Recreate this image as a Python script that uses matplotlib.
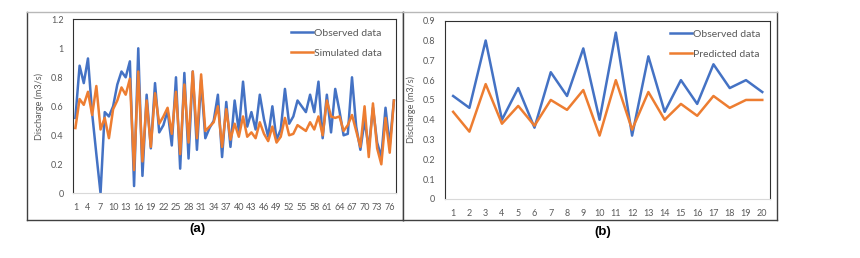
import matplotlib
matplotlib.use('Agg')
import matplotlib.pyplot as plt
import numpy as np

plt.rcParams['font.family'] = ['Lato', 'DejaVu Sans']

# panel (a): 77 days, observed vs simulated discharge
obs_a = [0.52, 0.88, 0.76, 0.93, 0.55, 0.27, 0.00, 0.56, 0.53, 0.60, 0.75, 0.84, 0.80, 0.91, 0.05, 1.00, 0.12, 0.68, 0.31, 0.76,
         0.42, 0.47, 0.57, 0.33, 0.80, 0.17, 0.83, 0.24, 0.84, 0.30, 0.78, 0.38, 0.45, 0.50, 0.68, 0.25, 0.63, 0.32, 0.64, 0.43,
         0.77, 0.46, 0.56, 0.44, 0.68, 0.51, 0.39, 0.60, 0.37, 0.44, 0.72, 0.48, 0.53, 0.64, 0.60, 0.56, 0.68, 0.56, 0.77, 0.38,
         0.68, 0.42, 0.72, 0.57, 0.40, 0.41, 0.80, 0.46, 0.30, 0.50, 0.31, 0.59, 0.35, 0.25, 0.59, 0.33, 0.64]
sim_a = [0.45, 0.65, 0.61, 0.70, 0.54, 0.74, 0.44, 0.52, 0.38, 0.58, 0.64, 0.73, 0.68, 0.79, 0.16, 0.84, 0.22, 0.64, 0.32, 0.69,
         0.48, 0.53, 0.59, 0.41, 0.70, 0.27, 0.75, 0.35, 0.84, 0.38, 0.82, 0.43, 0.46, 0.49, 0.60, 0.32, 0.58, 0.37, 0.48, 0.39,
         0.53, 0.39, 0.42, 0.38, 0.49, 0.41, 0.36, 0.46, 0.35, 0.39, 0.52, 0.40, 0.41, 0.47, 0.45, 0.43, 0.49, 0.44, 0.53, 0.40,
         0.64, 0.53, 0.52, 0.53, 0.43, 0.47, 0.54, 0.43, 0.32, 0.60, 0.25, 0.62, 0.31, 0.20, 0.52, 0.28, 0.64]

# panel (b): 20 days, observed vs predicted
obs_b = [0.52, 0.46, 0.80, 0.40, 0.56, 0.36, 0.64, 0.52, 0.76, 0.40,
         0.84, 0.32, 0.72, 0.44, 0.60, 0.48, 0.68, 0.56, 0.60, 0.54]
pred_b = [0.44, 0.34, 0.58, 0.38, 0.47, 0.37, 0.50, 0.45, 0.55, 0.32,
          0.60, 0.35, 0.54, 0.40, 0.48, 0.42, 0.52, 0.46, 0.50, 0.50]

yticks_a = [0, 0.2, 0.4, 0.6, 0.8, 1, 1.2]
yticks_b = [0, 0.1, 0.2, 0.3, 0.4, 0.5, 0.6, 0.7, 0.8, 0.9]

BLUE = '#4472C4'
ORANGE = '#ED7D31'
GREY = '#595959'
W, H = 860, 258


def px_rect(x0, y0, x1, y1):
    return [x0 / W, (H - y1) / H, (x1 - x0) / W, (y1 - y0) / H]


def frame(fig, x0, y0, x1, y1):
    ax = fig.add_axes(px_rect(x0, y0, x1, y1), zorder=-1)
    ax.set_xticks([])
    ax.set_yticks([])
    for s in ax.spines.values():
        s.set_color('#404040')
        s.set_linewidth(1.0)
    ax.spines['top'].set_color('#b8b8b8')
    return ax


def style_axes(ax, yticks, ylim, xt, labels):
    ax.set_ylim(ylim)
    ax.set_yticks(yticks)
    ax.set_yticklabels([('%g' % v) for v in yticks])
    ax.set_xticks(xt)
    ax.set_xticklabels(labels)
    ax.tick_params(length=0, labelsize=6.5, labelcolor=GREY)
    ax.tick_params(axis='y', pad=7)
    ax.tick_params(axis='x', pad=7)
    ax.set_ylabel('Discharge (m3/s)', fontsize=6.5, color=GREY, labelpad=5)
    for s in ['left', 'top', 'right']:
        ax.spines[s].set_color('#303030')
        ax.spines[s].set_linewidth(0.8)
    ax.spines['bottom'].set_color('#d9d9d9')
    ax.spines['bottom'].set_linewidth(0.8)


def add_legend(ax, x_anchor, y_anchor):
    ax.legend(loc='upper left', bbox_to_anchor=(x_anchor, y_anchor), frameon=False,
              fontsize=7.5, handlelength=2.15, handletextpad=0.1, labelspacing=1.05,
              borderpad=0, borderaxespad=0, labelcolor=GREY)


fig = plt.figure(figsize=(8.6, 2.58), dpi=100)

frame(fig, 27, 12, 403, 220)
frame(fig, 403, 12, 777, 220)

# (a)
ax1 = fig.add_axes(px_rect(73.3, 19.3, 396, 193.3))
x_a = np.arange(1, len(obs_a) + 1)
ax1.plot(x_a, obs_a, color=BLUE, lw=1.8, label='Observed data')
ax1.plot(x_a, sim_a, color=ORANGE, lw=1.8, label='Simulated data')
ax1.set_xlim(0.5, len(obs_a) + 0.5)
style_axes(ax1, yticks_a, (0, 1.2), x_a[::3], [str(v) for v in x_a[::3]])
add_legend(ax1, 0.674, 0.947)

# (b)
ax2 = fig.add_axes(px_rect(445, 20.7, 770.4, 199))
x_b = np.arange(1, len(obs_b) + 1)
ax2.plot(x_b, obs_b, color=BLUE, lw=1.8, label='Observed data')
ax2.plot(x_b, pred_b, color=ORANGE, lw=1.8, label='Predicted data')
ax2.set_xlim(0.5, len(obs_b) + 0.5)
style_axes(ax2, yticks_b, (0, 0.9), x_b, [str(v) for v in x_b])
add_legend(ax2, 0.691, 0.951)

fig.text(197 / W, 1 - 229 / H, '(a)', ha='center', va='center', fontsize=9.5,
         fontweight='bold', family=['Liberation Sans', 'DejaVu Sans'])
fig.text(603 / W, 1 - 232 / H, '(b)', ha='center', va='center', fontsize=9.5,
         fontweight='bold', family=['Liberation Sans', 'DejaVu Sans'])

fig.savefig('out.png', dpi=100)
